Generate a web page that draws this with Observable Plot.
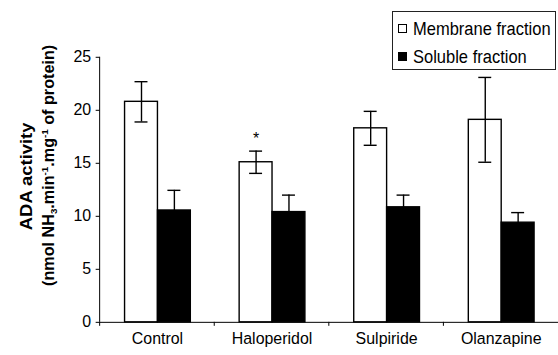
<!DOCTYPE html>
<html>
<head>
<meta charset="utf-8">
<script src="https://cdn.jsdelivr.net/npm/d3@7"></script>
<script src="https://cdn.jsdelivr.net/npm/@observablehq/plot@0.6"></script>
<style>
  html, body { margin: 0; padding: 0; background: #fff; overflow: hidden; }
  #wrap { position: relative; width: 558px; height: 355px; overflow: hidden; font-family: "Liberation Sans", Arial, sans-serif; }
  #legend { position: absolute; left: 392px; top: 11px; width: 164px; height: 59px; box-sizing: border-box;
            border: 1px solid #222; background: #fff; padding-top: 2px; font-size: 16.5px; color: #000; }
  #legend .item { height: 28px; display: flex; align-items: center; }
  #legend .sw { width: 7px; height: 7px; border: 1.3px solid #000; margin-left: 5px; margin-right: 6px; flex: none; }
  #legend .lab { display: inline-block; transform: scaleY(1.12); white-space: nowrap; }
</style>
</head>
<body>
<div id="wrap"></div>
<script>
// ---- data ----
const groups = ["Control", "Haloperidol", "Sulpiride", "Olanzapine"];
const fractions = ["Membrane fraction", "Soluble fraction"];
const fractionColors = ["white", "black"];
const membrane   = [20.8, 15.1, 18.3, 19.1];
const membraneSE = [1.9, 1.05, 1.6, 4.0];
const soluble    = [10.55, 10.4, 10.85, 9.4];
const solubleSE  = [1.9, 1.6, 1.15, 0.95];
const yTicks = [0, 5, 10, 15, 20, 25];
const significant = ["Haloperidol"];   // marked with *
const titleLine1 = "ADA activity";

const data = groups.flatMap((g, i) => [
  {group: g, fraction: fractions[0], value: membrane[i], se: membraneSE[i]},
  {group: g, fraction: fractions[1], value: soluble[i], se: solubleSE[i]}
]);
const starData = data.filter(d => d.fraction === fractions[0] && significant.includes(d.group));

const chart = Plot.plot({
  width: 560,
  height: 355,
  marginLeft: 99,
  marginRight: 0,
  marginTop: 57,
  marginBottom: 32,
  style: {fontFamily: "Liberation Sans, Arial, sans-serif", fontSize: "16px", color: "#000", background: "#fff"},
  fx: {domain: groups, padding: 0, label: null},
  x: {domain: fractions, paddingInner: 0, paddingOuter: 0.74, axis: null},
  y: {domain: [0, 25], label: null},
  color: {domain: fractions, range: fractionColors},
  marks: [
    Plot.axisY({ticks: yTicks, tickSize: 4, tickPadding: 5, label: null, fontSize: 16, stroke: "#000"}),
    Plot.axisFx({anchor: "bottom", tickSize: 0, tickPadding: 10, label: null, fontSize: 16}),
    Plot.barY(data, {fx: "group", x: "fraction", y: "value", fill: "fraction", stroke: "#000", strokeWidth: 1.4, inset: 0}),
    Plot.ruleX(data, {fx: "group", x: "fraction", y1: d => d.value - d.se, y2: d => d.value + d.se, stroke: "#000", strokeWidth: 1.4}),
    Plot.tickY(data, {fx: "group", x: "fraction", y: d => d.value + d.se, stroke: "#000", strokeWidth: 1.4, insetLeft: 10, insetRight: 10}),
    Plot.tickY(data, {fx: "group", x: "fraction", y: d => d.value - d.se, stroke: "#000", strokeWidth: 1.4, insetLeft: 10, insetRight: 10}),
    Plot.ruleY([0], {stroke: "#000", strokeWidth: 1}),
    Plot.text(starData, {fx: "group", x: "fraction", y: d => d.value + d.se, text: () => "*", dy: -12, fontSize: 16, fill: "#000"})
  ]
});

const svg = d3.select(chart);
const fx = chart.scale("fx");
const y = chart.scale("y");
const y0 = y.apply(0);
const yTop = y.apply(25);

// y axis line and category-boundary ticks
svg.append("line").attr("x1", fx.apply(groups[0])).attr("x2", fx.apply(groups[0]))
  .attr("y1", yTop).attr("y2", y0).attr("stroke", "#000").attr("stroke-width", 1);
svg.append("g").selectAll("line").data(groups).join("line")
  .attr("x1", g => fx.apply(g)).attr("x2", g => fx.apply(g))
  .attr("y1", y0).attr("y2", y0 + 4).attr("stroke", "#000").attr("stroke-width", 1);

// y axis title (two lines, rotated)
const t = svg.append("g").attr("font-family", "Liberation Sans, Arial, sans-serif")
  .attr("font-weight", "bold").attr("font-size", 16.5).attr("fill", "#000");
t.append("text").attr("transform", "translate(32,177) rotate(-90)")
  .attr("text-anchor", "middle").attr("textLength", 108).attr("lengthAdjust", "spacingAndGlyphs")
  .text(titleLine1);
const t2 = t.append("text").attr("transform", "translate(54,166) rotate(-90)")
  .attr("text-anchor", "middle").attr("textLength", 242).attr("lengthAdjust", "spacingAndGlyphs");
t2.append("tspan").text("(nmol NH");
t2.append("tspan").attr("dy", 3).attr("font-size", 10).text("3");
t2.append("tspan").attr("dy", -3).text(".min");
t2.append("tspan").attr("dy", -6).attr("font-size", 10).text("-1");
t2.append("tspan").attr("dy", 6).text(".mg");
t2.append("tspan").attr("dy", -6).attr("font-size", 10).text("-1");
t2.append("tspan").attr("dy", 6).text(" of protein)");

const wrap = document.getElementById("wrap");
wrap.appendChild(chart);

// legend
const legend = d3.select(wrap).append("div").attr("id", "legend");
const items = legend.selectAll(".item").data(fractions).join("div").attr("class", "item");
items.append("span").attr("class", "sw").style("background", (d, i) => fractionColors[i]);
items.append("span").attr("class", "lab").text(d => d);
</script>
</body>
</html>
